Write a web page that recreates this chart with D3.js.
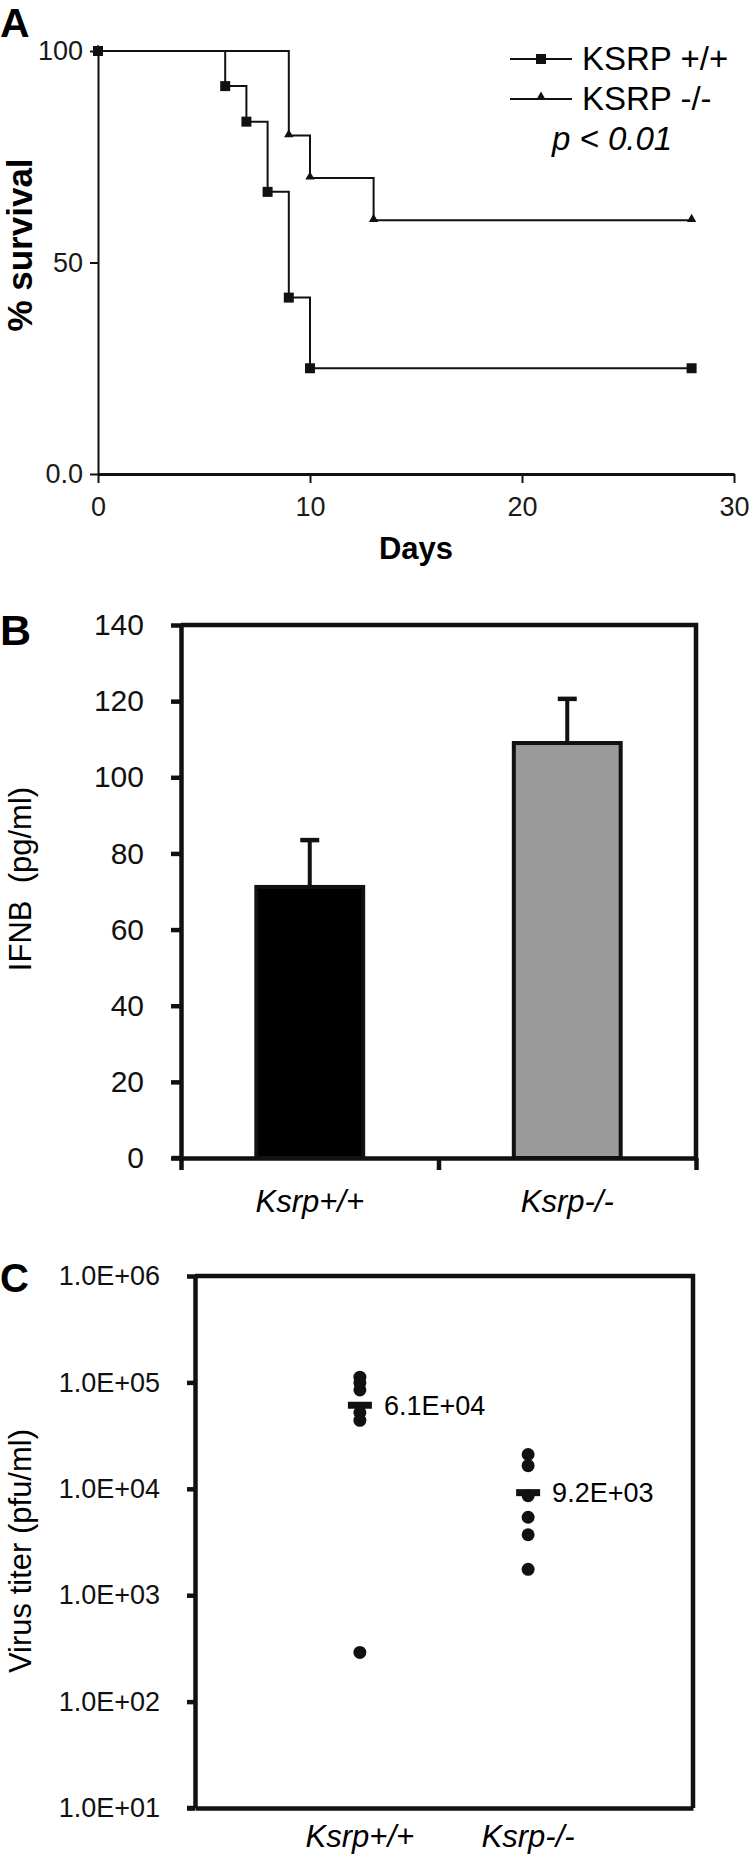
<!DOCTYPE html>
<html><head><meta charset="utf-8">
<script src="https://cdn.jsdelivr.net/npm/d3@7"></script>
<style>
html,body{margin:0;padding:0;background:#fff;}
svg{display:block;font-family:"Liberation Sans",Arial,sans-serif;}
</style></head>
<body>
<svg id="chart" width="750" height="1855"></svg>
<script>
// ---------- Panel A data (Kaplan-Meier survival) ----------
const survDays = [0, 6, 7, 8, 9, 10, 28];
const survWT   = [100, 91.7, 83.3, 66.7, 41.7, 25, 25];
const koDays   = [0, 9, 10, 13, 28];
const survKO   = [100, 80, 70, 60, 60];
const aXTicks  = [0, 10, 20, 30];
const aYTicks  = [0, 50, 100];
const legendLabels = ["KSRP +/+", "KSRP -/-"];

// ---------- Panel B data (IFNB bars) ----------
const bCategories = ["Ksrp+/+", "Ksrp-/-"];
const bMeans  = [71.2, 109];
const bErrors = [12.3, 11.6];
const bFills  = ["#000000", "#9b9b9b"];
const bYTicks = [0, 20, 40, 60, 80, 100, 120, 140];

// ---------- Panel C data (virus titer dots) ----------
const cCategories = ["Ksrp+/+", "Ksrp-/-"];
const cWT = [1.12e5, 9.9e4, 8.5e4, 5.2e4, 4.4e4, 2.9e2];
const cKO = [2.1e4, 1.65e4, 8.6e3, 5.4e3, 3.7e3, 1.75e3];
const cMeans = [6.1e4, 9.2e3];
const cMeanLabels = ["6.1E+04", "9.2E+03"];
const cYTicks = [1e1, 1e2, 1e3, 1e4, 1e5, 1e6];

const svg = d3.select("#chart");
const ink = "#111";

// ================= PANEL A =================
const gA = svg.append("g");
const xA = d3.scaleLinear().domain([0, 30]).range([98, 734]);
const yA = d3.scaleLinear().domain([0, 100]).range([474, 51]);

gA.append("text").attr("x", 0).attr("y", 37).attr("font-size", 41).attr("font-weight", "bold").text("A");

const axYA = gA.append("g").attr("transform", `translate(${xA(0)},0)`)
  .call(d3.axisLeft(yA).tickValues(aYTicks).tickFormat(d => d === 0 ? "0.0" : d).tickSize(8).tickSizeOuter(0).tickPadding(7));
const axXA = gA.append("g").attr("transform", `translate(0,${yA(0)})`)
  .call(d3.axisBottom(xA).tickValues(aXTicks).tickSize(9).tickSizeOuter(0).tickPadding(14));
[axYA, axXA].forEach(a => {
  a.selectAll("path").attr("stroke", ink).attr("stroke-width", 2);
  a.selectAll("line").attr("stroke", ink).attr("stroke-width", 2);
  a.selectAll("text").attr("font-size", 27).attr("fill", "#1a1a1a").attr("font-family", "Liberation Sans, Arial, sans-serif");
});
axXA.select("path").attr("stroke-width", 3);

gA.append("text").attr("x", xA(15)).attr("y", 559).attr("text-anchor", "middle")
  .attr("font-size", 31).attr("font-weight", "bold").text("Days");
gA.append("text").attr("transform", `translate(32,245) rotate(-90)`).attr("text-anchor", "middle")
  .attr("font-size", 35).attr("font-weight", "bold").text("% survival");

const stepLine = d3.line().curve(d3.curveStepAfter).x(d => xA(d[0])).y(d => yA(d[1]));
const koPts = koDays.map((d, i) => [d, survKO[i]]);
const wtPts = survDays.map((d, i) => [d, survWT[i]]);

gA.append("path").datum(koPts).attr("d", stepLine).attr("fill", "none").attr("stroke", ink).attr("stroke-width", 2);
gA.append("path").datum(wtPts).attr("d", stepLine).attr("fill", "none").attr("stroke", ink).attr("stroke-width", 2);

const tri = d3.symbol().type(d3.symbolTriangle).size(38);
gA.selectAll(".tri").data(koPts).join("path").attr("class", "tri")
  .attr("transform", d => `translate(${xA(d[0])},${yA(d[1]) - 1})`).attr("d", tri).attr("fill", ink);
gA.selectAll(".sq").data(wtPts).join("rect").attr("class", "sq")
  .attr("x", d => xA(d[0]) - 5).attr("y", d => yA(d[1]) - 5).attr("width", 10).attr("height", 10).attr("fill", ink);

// legend
const legY = [59, 99];
legendLabels.forEach((lab, i) => {
  gA.append("line").attr("x1", 510).attr("x2", 572).attr("y1", legY[i]).attr("y2", legY[i]).attr("stroke", ink).attr("stroke-width", 2);
  if (i === 0) gA.append("rect").attr("x", 536).attr("y", legY[i] - 5).attr("width", 10).attr("height", 10).attr("fill", ink);
  else gA.append("path").attr("transform", `translate(541,${legY[i] - 2})`).attr("d", tri).attr("fill", ink);
  gA.append("text").attr("x", 582).attr("y", legY[i] + 11).attr("font-size", 33).text(lab);
});
gA.append("text").attr("x", 552).attr("y", 150).attr("font-size", 33).attr("font-style", "italic").text("p < 0.01");

// ================= PANEL B =================
const gB = svg.append("g");
const xB = d3.scaleBand().domain(bCategories).range([181, 696]).paddingInner(0.585).paddingOuter(0.2925);
const yB = d3.scaleLinear().domain([0, 140]).range([1158, 625]);

gB.append("text").attr("x", 0).attr("y", 645).attr("font-size", 43).attr("font-weight", "bold").text("B");

// frame top/right
gB.append("path").attr("d", `M${xB.range()[0]},${yB(140)}H${xB.range()[1]}V${yB(0)}`)
  .attr("fill", "none").attr("stroke", ink).attr("stroke-width", 4.5);

const axYB = gB.append("g").attr("transform", `translate(${xB.range()[0]},0)`)
  .call(d3.axisLeft(yB).tickValues(bYTicks).tickSize(10).tickSizeOuter(0).tickPadding(27));
const bBound = d3.scaleLinear().domain([0, bCategories.length]).range(xB.range());
const axXB = gB.append("g").attr("transform", `translate(0,${yB(0)})`)
  .call(d3.axisBottom(bBound).tickValues(d3.range(0, bCategories.length + 1)).tickSize(12).tickSizeOuter(0).tickFormat(""));
[axYB, axXB].forEach(a => {
  a.selectAll("path,line").attr("stroke", ink).attr("stroke-width", 4.5);
  a.selectAll("text").attr("font-size", 30).attr("fill", ink).attr("font-family", "Liberation Sans, Arial, sans-serif");
});
// extend x axis line left like the 0 tick
gB.append("line").attr("x1", 172).attr("x2", xB.range()[0]).attr("y1", yB(0)).attr("y2", yB(0)).attr("stroke", ink).attr("stroke-width", 4.5);

gB.selectAll(".bar").data(bCategories).join("rect").attr("class", "bar")
  .attr("x", d => xB(d)).attr("width", xB.bandwidth())
  .attr("y", (d, i) => yB(bMeans[i])).attr("height", (d, i) => yB(0) - yB(bMeans[i]))
  .attr("fill", (d, i) => bFills[i]).attr("stroke", ink).attr("stroke-width", 4);

bCategories.forEach((c, i) => {
  const cx = xB(c) + xB.bandwidth() / 2;
  gB.append("line").attr("x1", cx).attr("x2", cx).attr("y1", yB(bMeans[i])).attr("y2", yB(bMeans[i] + bErrors[i]))
    .attr("stroke", ink).attr("stroke-width", 4);
  gB.append("line").attr("x1", cx - 9.5).attr("x2", cx + 9.5).attr("y1", yB(bMeans[i] + bErrors[i])).attr("y2", yB(bMeans[i] + bErrors[i]))
    .attr("stroke", ink).attr("stroke-width", 4.5);
  gB.append("text").attr("x", cx).attr("y", 1212).attr("text-anchor", "middle")
    .attr("font-size", 31).attr("font-style", "italic").text(c);
});
gB.append("text").attr("transform", `translate(31,879) rotate(-90)`).attr("text-anchor", "middle")
  .attr("font-size", 31).attr("xml:space", "preserve").style("white-space", "pre").text("IFNB  (pg/ml)");

// ================= PANEL C =================
const gC = svg.append("g");
const xC = d3.scalePoint().domain(cCategories).range([195, 693]).padding(0.98);
const yC = d3.scaleLog().domain([1e1, 1e6]).range([1808, 1276]);

gC.append("text").attr("x", 0).attr("y", 1292).attr("font-size", 40).attr("font-weight", "bold").text("C");

gC.append("path").attr("d", `M${xC.range()[0]},${yC(1e6)}H${xC.range()[1]}V${yC(1e1)}`)
  .attr("fill", "none").attr("stroke", ink).attr("stroke-width", 4.5);
const axYC = gC.append("g").attr("transform", `translate(${xC.range()[0]},0)`)
  .call(d3.axisLeft(yC).tickValues(cYTicks).tickSize(8).tickSizeOuter(0).tickPadding(27)
    .tickFormat(d => "1.0E+" + String(Math.round(Math.log10(d))).padStart(2, "0")));
const axXC = gC.append("g").attr("transform", `translate(0,${yC(1e1)})`)
  .call(d3.axisBottom(xC).tickSize(0).tickSizeOuter(0).tickFormat(""));
[axYC, axXC].forEach(a => {
  a.selectAll("path,line").attr("stroke", ink).attr("stroke-width", 4.5);
  a.selectAll("text").attr("font-size", 27).attr("fill", ink).attr("font-family", "Liberation Sans, Arial, sans-serif");
});
gC.append("line").attr("x1", 187).attr("x2", xC.range()[0]).attr("y1", yC(1e1)).attr("y2", yC(1e1)).attr("stroke", ink).attr("stroke-width", 4.5);

const groups = [cWT, cKO];
cCategories.forEach((c, i) => {
  const cx = xC(c);
  gC.selectAll(".dot" + i).data(groups[i]).join("circle").attr("class", "dot" + i)
    .attr("cx", cx).attr("cy", d => yC(d)).attr("r", 6.5).attr("fill", ink);
  gC.append("rect").attr("x", cx - 12).attr("y", yC(cMeans[i]) - 3.5).attr("width", 24).attr("height", 7).attr("fill", ink);
  gC.append("text").attr("x", cx + 24).attr("y", yC(cMeans[i])).attr("dy", "0.35em")
    .attr("font-size", 27).text(cMeanLabels[i]);
  gC.append("text").attr("x", cx).attr("y", 1847).attr("text-anchor", "middle")
    .attr("font-size", 31).attr("font-style", "italic").text(c);
});
gC.append("text").attr("transform", `translate(31,1551) rotate(-90)`).attr("text-anchor", "middle")
  .attr("font-size", 31).text("Virus titer (pfu/ml)");
</script>
</body></html>
